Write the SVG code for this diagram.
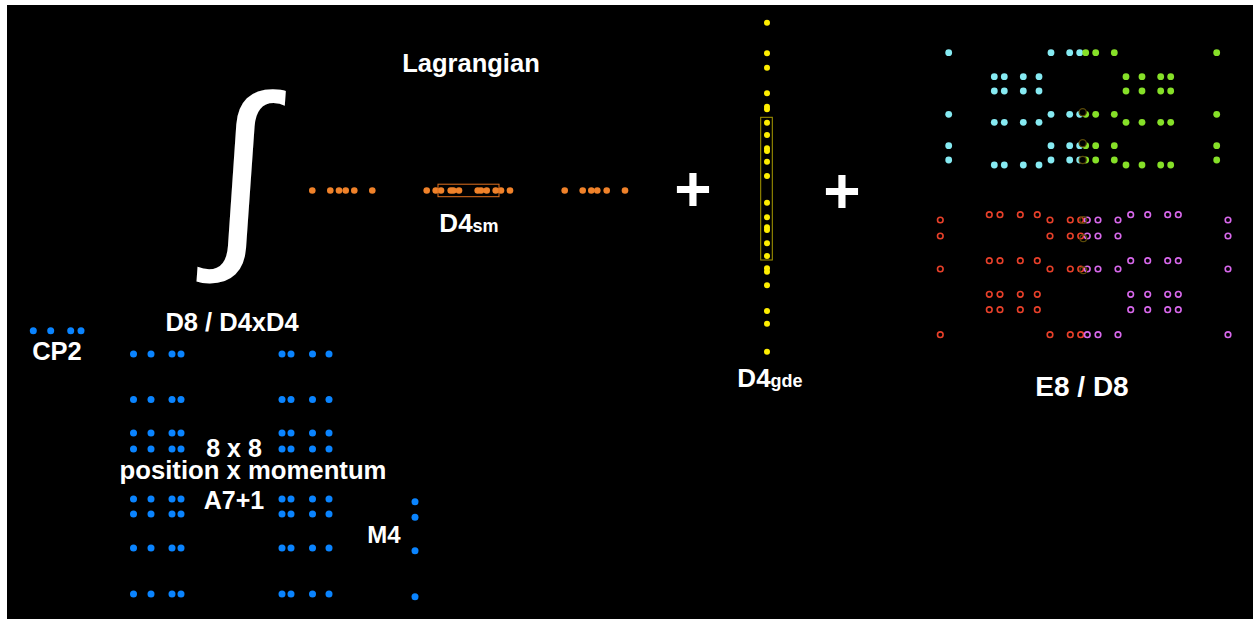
<svg xmlns="http://www.w3.org/2000/svg" xmlns:xlink="http://www.w3.org/1999/xlink" width="1253" height="619" viewBox="0 0 1253 619">
<style>
.t{font-family:"Liberation Sans",Arial,sans-serif;font-weight:bold;fill:#fff;text-anchor:middle}
.b{fill:#0a84ff}
.o{fill:#f0822a}
.y{fill:#ffee00}
.c{fill:#86eaf2}
.g{fill:#86e028}
.r{fill:none;stroke:#e8402a;stroke-width:1.6}
.m{fill:none;stroke:#d868ec;stroke-width:1.6}
.k{fill:#000;stroke:#5a4a08;stroke-width:1.2}
.kn{fill:none;stroke:#5a4a08;stroke-width:1.2}
</style>
<defs>
<g id="brow">
<circle class="b" cx="133.5" cy="0" r="3.5"/><circle class="b" cx="151" cy="0" r="3.5"/><circle class="b" cx="172" cy="0" r="3.5"/><circle class="b" cx="181" cy="0" r="3.5"/>
<circle class="b" cx="282" cy="0" r="3.5"/><circle class="b" cx="291" cy="0" r="3.5"/><circle class="b" cx="312.5" cy="0" r="3.5"/><circle class="b" cx="329" cy="0" r="3.5"/>
</g>
<g id="rowA">
<circle class="c" cx="948.7" cy="0" r="3.4"/><circle class="c" cx="1051" cy="0" r="3.4"/><circle class="c" cx="1069.7" cy="0" r="3.4"/><circle class="c" cx="1079.7" cy="0" r="3.4"/>
<circle class="g" cx="1085.7" cy="0" r="3.4"/><circle class="g" cx="1095.7" cy="0" r="3.4"/><circle class="g" cx="1114.3" cy="0" r="3.4"/><circle class="g" cx="1216.7" cy="0" r="3.4"/>
</g>
<g id="rowB">
<circle class="c" cx="994.3" cy="0" r="3.4"/><circle class="c" cx="1004.3" cy="0" r="3.4"/><circle class="c" cx="1023.3" cy="0" r="3.4"/><circle class="c" cx="1039" cy="0" r="3.4"/>
<circle class="g" cx="1126" cy="0" r="3.4"/><circle class="g" cx="1142" cy="0" r="3.4"/><circle class="g" cx="1160.7" cy="0" r="3.4"/><circle class="g" cx="1170.7" cy="0" r="3.4"/>
</g>
<g id="rowC">
<circle class="r" cx="940.3" cy="0" r="2.8"/><circle class="r" cx="1050" cy="0" r="2.8"/><circle class="r" cx="1070.3" cy="0" r="2.8"/><circle class="r" cx="1080.7" cy="0" r="2.8"/>
<circle class="m" cx="1087.3" cy="0" r="2.8"/><circle class="m" cx="1098" cy="0" r="2.8"/><circle class="m" cx="1118" cy="0" r="2.8"/><circle class="m" cx="1228" cy="0" r="2.8"/>
</g>
<g id="rowD">
<circle class="r" cx="989.3" cy="0" r="2.8"/><circle class="r" cx="1000" cy="0" r="2.8"/><circle class="r" cx="1020.3" cy="0" r="2.8"/><circle class="r" cx="1037.3" cy="0" r="2.8"/>
<circle class="m" cx="1130.7" cy="0" r="2.8"/><circle class="m" cx="1147.7" cy="0" r="2.8"/><circle class="m" cx="1167.7" cy="0" r="2.8"/><circle class="m" cx="1178.3" cy="0" r="2.8"/>
</g>
</defs>
<rect x="0" y="0" width="1253" height="619" fill="#fff"/>
<rect x="7" y="5" width="1246" height="614" fill="#000"/>

<g id="lagrangian">
<text class="t" x="471" y="72" font-size="25.5">Lagrangian</text>
</g>

<g id="integral">
<text class="t" x="241" y="240" font-size="205" style="font-weight:normal" transform="translate(241,186) skewX(-4) translate(-241,-186)">∫</text>
</g>

<g id="d4sm">
<circle class="o" cx="312.3" cy="190.5" r="3.3"/><circle class="o" cx="330.3" cy="190.5" r="3.3"/><circle class="o" cx="339" cy="190.5" r="3.3"/><circle class="o" cx="345.7" cy="190.5" r="3.3"/><circle class="o" cx="354.3" cy="190.5" r="3.3"/><circle class="o" cx="372.3" cy="190.5" r="3.3"/>
<circle class="o" cx="426.7" cy="190.5" r="3.3"/><circle class="o" cx="435.7" cy="190.5" r="3.3"/><circle class="o" cx="441" cy="190.5" r="3.3"/><circle class="o" cx="450.7" cy="190.5" r="3.3"/><circle class="o" cx="453.3" cy="190.5" r="3.3"/><circle class="o" cx="459" cy="190.5" r="3.3"/>
<circle class="o" cx="477.7" cy="190.5" r="3.3"/><circle class="o" cx="481" cy="190.5" r="3.3"/><circle class="o" cx="486.7" cy="190.5" r="3.3"/><circle class="o" cx="495.7" cy="190.5" r="3.3"/><circle class="o" cx="501" cy="190.5" r="3.3"/><circle class="o" cx="510" cy="190.5" r="3.3"/>
<circle class="o" cx="564.7" cy="190.5" r="3.3"/><circle class="o" cx="582.7" cy="190.5" r="3.3"/><circle class="o" cx="591.3" cy="190.5" r="3.3"/><circle class="o" cx="597.3" cy="190.5" r="3.3"/><circle class="o" cx="606.7" cy="190.5" r="3.3"/><circle class="o" cx="625" cy="190.5" r="3.3"/>
<rect x="438" y="184.2" width="61" height="12.5" fill="none" stroke="#e0701e" stroke-width="1"/>
<text class="t" x="469" y="231.5" font-size="26">D4<tspan font-size="18">sm</tspan></text>
</g>

<g id="plus1"><text class="t" x="693" y="211" font-size="64">+</text></g>
<g id="plus2"><text class="t" x="842" y="213" font-size="64">+</text></g>

<g id="d4gde">
<circle class="y" cx="767" cy="22.7" r="3"/><circle class="y" cx="767" cy="53.3" r="3"/><circle class="y" cx="767" cy="67.7" r="3"/><circle class="y" cx="767" cy="93.3" r="3"/>
<circle class="y" cx="767" cy="106.7" r="3"/><circle class="y" cx="767" cy="109.3" r="3"/><circle class="y" cx="767" cy="122.7" r="3"/><circle class="y" cx="767" cy="135" r="3"/>
<circle class="y" cx="767" cy="148.3" r="3"/><circle class="y" cx="767" cy="151" r="3"/><circle class="y" cx="767" cy="161.7" r="3"/><circle class="y" cx="767" cy="176" r="3"/>
<circle class="y" cx="767" cy="202.7" r="3"/><circle class="y" cx="767" cy="217.3" r="3"/><circle class="y" cx="767" cy="227.3" r="3"/><circle class="y" cx="767" cy="230" r="3"/>
<circle class="y" cx="767" cy="243.3" r="3"/><circle class="y" cx="767" cy="256" r="3"/><circle class="y" cx="767" cy="268.3" r="3"/><circle class="y" cx="767" cy="271.7" r="3"/>
<circle class="y" cx="767" cy="285.3" r="3"/><circle class="y" cx="767" cy="311" r="3"/><circle class="y" cx="767" cy="323.7" r="3"/><circle class="y" cx="767" cy="351.7" r="3"/>
<rect x="760.7" y="117.3" width="11.6" height="142.7" fill="none" stroke="#a89a00" stroke-width="1"/>
<text class="t" x="770" y="386.5" font-size="26">D4<tspan font-size="18">gde</tspan></text>
</g>

<g id="e8d8">
<use xlink:href="#rowA" y="52.7"/><use xlink:href="#rowB" y="76.7"/><use xlink:href="#rowB" y="91"/>
<use xlink:href="#rowA" y="114.3"/><use xlink:href="#rowB" y="122.3"/><use xlink:href="#rowA" y="145.7"/>
<use xlink:href="#rowA" y="160"/><use xlink:href="#rowB" y="165"/>
<circle class="k" cx="1082.7" cy="112.3" r="3.6"/><circle class="k" cx="1082.7" cy="143.3" r="3.6"/><circle class="k" cx="1082.7" cy="160" r="3.6"/>
<use xlink:href="#rowD" y="214.7"/><use xlink:href="#rowC" y="220"/><use xlink:href="#rowC" y="236"/>
<use xlink:href="#rowD" y="260.7"/><use xlink:href="#rowC" y="269"/><use xlink:href="#rowD" y="294.3"/>
<use xlink:href="#rowD" y="309.7"/><use xlink:href="#rowC" y="334.7"/>
<circle class="kn" cx="1083.3" cy="220" r="3.4"/><circle class="kn" cx="1083.3" cy="238.3" r="3.4"/><circle class="kn" cx="1083.3" cy="270.3" r="3.4"/>
<text class="t" x="1082" y="396" font-size="28">E8 / D8</text>
</g>

<g id="d8d4xd4">
<text class="t" x="232" y="331" font-size="25.5">D8 / D4xD4</text>
</g>

<g id="cp2">
<circle class="b" cx="33.3" cy="330.7" r="3.5"/><circle class="b" cx="50.7" cy="330.7" r="3.5"/><circle class="b" cx="70.7" cy="330.7" r="3.5"/><circle class="b" cx="81" cy="330.7" r="3.5"/>
<text class="t" x="57" y="360" font-size="25.5">CP2</text>
</g>

<g id="a7grid">
<use xlink:href="#brow" y="354"/><use xlink:href="#brow" y="399.5"/><use xlink:href="#brow" y="433"/><use xlink:href="#brow" y="449"/>
<use xlink:href="#brow" y="499"/><use xlink:href="#brow" y="514"/><use xlink:href="#brow" y="548"/><use xlink:href="#brow" y="594"/>
<text class="t" x="234" y="457" font-size="25">8 x 8</text>
<text class="t" x="253" y="479" font-size="25.7">position x momentum</text>
<text class="t" x="234" y="509" font-size="25">A7+1</text>
</g>

<g id="m4">
<circle class="b" cx="415" cy="501.7" r="3.5"/><circle class="b" cx="415" cy="517.3" r="3.5"/><circle class="b" cx="415" cy="550.7" r="3.5"/><circle class="b" cx="415" cy="596.7" r="3.5"/>
<text class="t" x="384" y="543" font-size="24">M4</text>
</g>

<g id="connectors"/>
</svg>
